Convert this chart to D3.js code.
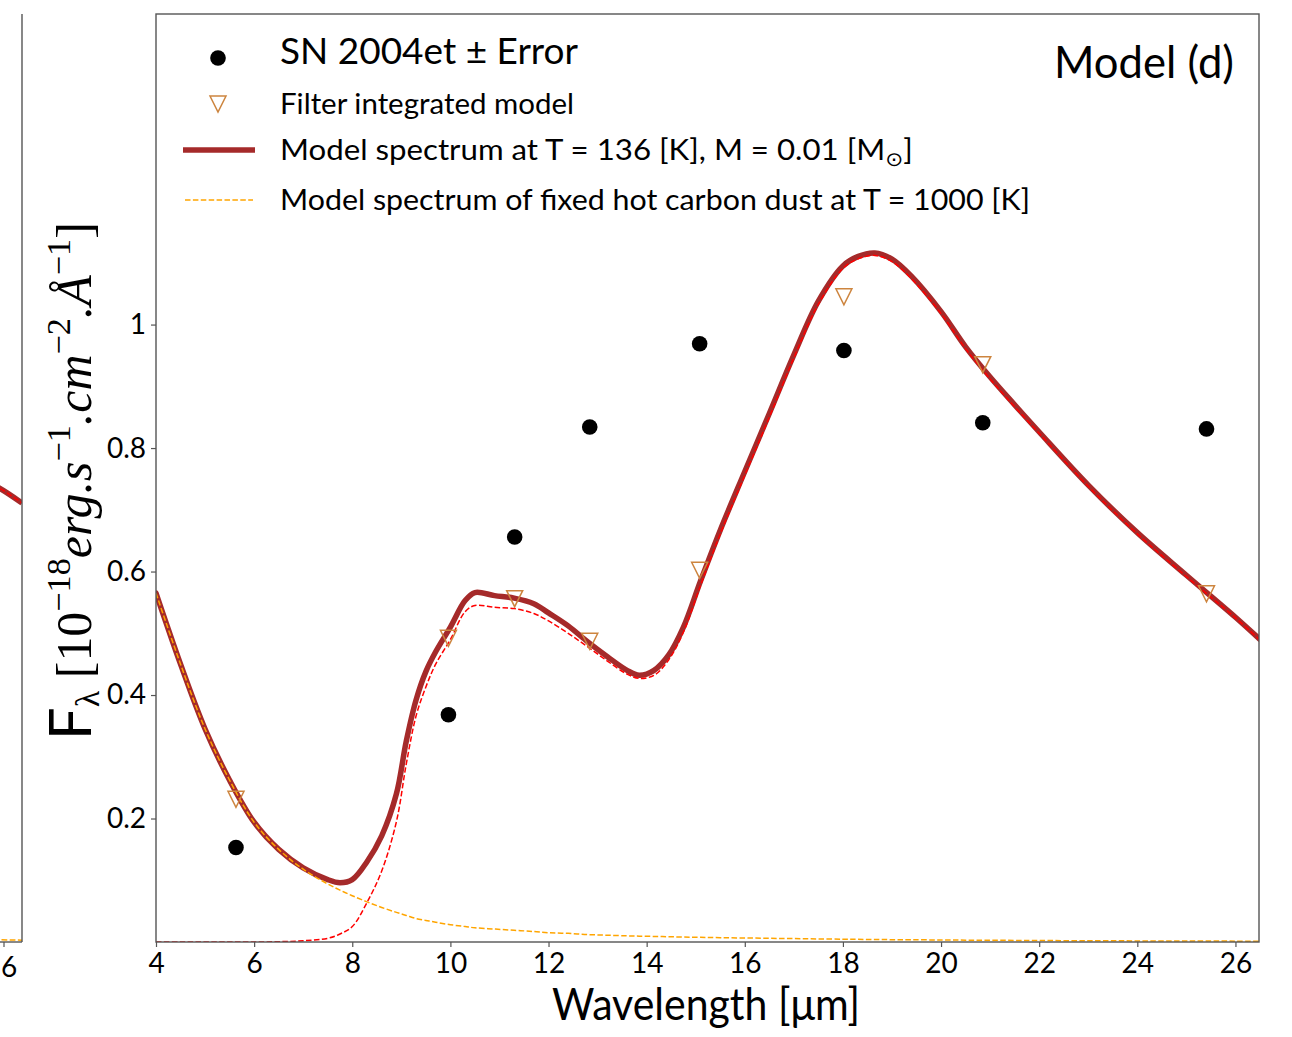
<!DOCTYPE html>
<html><head><meta charset="utf-8">
<script src="https://cdn.jsdelivr.net/npm/d3@7"></script>
<style>body{margin:0;background:#fff} svg{display:block}</style>
</head><body><svg id="c" width="1292" height="1037"></svg>
<script>
// ---------- data ----------
const wavelength = [4.0, 4.5, 5.0, 5.5, 6.0, 6.5, 7.0, 7.5, 7.75, 8.0, 8.3, 8.6, 8.9, 9.1, 9.3, 9.5, 9.7, 10.0, 10.3, 10.5, 10.9, 11.3, 11.7, 12.0, 12.4, 12.8, 13.2, 13.6, 13.85, 14.15, 14.45, 14.75, 15.1, 15.5, 16.0, 16.5, 17.0, 17.5, 18.0, 18.3, 18.65, 19.0, 19.4, 20.0, 20.5, 21.0, 21.5, 22.0, 23.0, 24.0, 25.0, 26.0, 26.5];
const totalFlux = [0.565, 0.450, 0.345, 0.262, 0.194, 0.150, 0.120, 0.101, 0.096, 0.101, 0.130, 0.172, 0.240, 0.325, 0.392, 0.438, 0.470, 0.510, 0.553, 0.566, 0.561, 0.557, 0.548, 0.533, 0.512, 0.486, 0.462, 0.440, 0.432, 0.440, 0.465, 0.510, 0.585, 0.667, 0.762, 0.856, 0.951, 1.038, 1.095, 1.110, 1.116, 1.106, 1.078, 1.021, 0.964, 0.915, 0.870, 0.826, 0.740, 0.663, 0.594, 0.526, 0.490];
const warmDust = [0.0, 0.0, 0.0, 0.0, 0.0, 0.0005, 0.002, 0.006, 0.013, 0.025, 0.064, 0.115, 0.195, 0.288, 0.366, 0.413, 0.450, 0.490, 0.535, 0.545, 0.542, 0.540, 0.532, 0.520, 0.500, 0.478, 0.455, 0.434, 0.427, 0.432, 0.457, 0.502, 0.578, 0.661, 0.756, 0.850, 0.946, 1.033, 1.091, 1.106, 1.112, 1.102, 1.074, 1.018, 0.961, 0.912, 0.867, 0.824, 0.738, 0.661, 0.592, 0.525, 0.489];
const hotCarbon = [0.565, 0.450, 0.345, 0.262, 0.194, 0.150, 0.118, 0.094, 0.084, 0.075, 0.065, 0.056, 0.048, 0.043, 0.038, 0.035, 0.032, 0.028, 0.025, 0.023, 0.021, 0.019, 0.017, 0.015, 0.014, 0.012, 0.011, 0.010, 0.0095, 0.009, 0.0085, 0.008, 0.0075, 0.007, 0.0065, 0.006, 0.0055, 0.005, 0.0045, 0.0043, 0.004, 0.0038, 0.0036, 0.0033, 0.003, 0.0028, 0.0026, 0.0024, 0.002, 0.0018, 0.0016, 0.0014, 0.0013];

const obsWl = [5.63, 9.96, 11.31, 12.84, 15.08, 18.02, 20.85, 25.41];
const obsFlux = [0.153, 0.368, 0.656, 0.834, 0.969, 0.958, 0.841, 0.831];
const filterFlux = [0.231, 0.492, 0.556, 0.487, 0.602, 1.045, 0.935, 0.564];

const xTicks = [4, 6, 8, 10, 12, 14, 16, 18, 20, 22, 24, 26];
const yTicks = [0.2, 0.4, 0.6, 0.8, 1];
const yTickLabels = ["0.2", "0.4", "0.6", "0.8", "1"];

const legendLabels = [
  "SN 2004et \u00B1 Error",
  "Filter integrated model",
  "Model spectrum at T = 136 [K], M = 0.01 [M",
  "Model spectrum of fixed hot carbon dust at T = 1000 [K]"
];
const panelTitle = "Model (d)";
const xLabel = "Wavelength [\u03BCm]";

// neighbouring (cut-off) panel on the left
const leftWl = [5.6, 5.9, 6.4];
const leftTotal = [0.745, 0.735, 0.711];
const leftHot = [0.004, 0.0035, 0.003];
const leftTicks = [6];

// ---------- layout ----------
const svg = d3.select("#c");
const L = 156, R = 1259, T = 14, B = 942;
const x = d3.scaleLinear().domain([4, 26.48]).range([L, R]);
const y = d3.scaleLinear().domain([0, 1.503]).range([B, T]);
const xl = d3.scaleLinear().domain([1.0, 6.4]).range([22 - 5.4 * 45, 22]);

const sans = "Lato, 'Open Sans', 'DejaVu Sans', sans-serif";
const serif = "'Liberation Serif', 'DejaVu Serif', serif";
const spine = "#555";

const brown = "#a52a2a", red = "#ff0000", orange = "#ffa500", peru = "#cd853f";
const smooth = d3.curveCatmullRom.alpha(0.5);

// ---------- left partial panel ----------
const lp = svg.append("g");
lp.append("defs").append("clipPath").attr("id", "clipL")
  .append("rect").attr("x", 0).attr("y", T).attr("width", 22).attr("height", B - T);
const lineL = d3.line().x((d, i) => xl(leftWl[i])).y(d => y(d)).curve(smooth);
lp.append("path").attr("clip-path", "url(#clipL)").attr("d", lineL(leftTotal))
  .attr("fill", "none").attr("stroke", brown).attr("stroke-width", 5.5);
lp.append("path").attr("clip-path", "url(#clipL)").attr("d", lineL(leftTotal))
  .attr("fill", "none").attr("stroke", red).attr("stroke-width", 1.5).attr("stroke-dasharray", "5.5,2.4");
lp.append("path").attr("clip-path", "url(#clipL)").attr("d", lineL(leftHot))
  .attr("fill", "none").attr("stroke", orange).attr("stroke-width", 1.5).attr("stroke-dasharray", "5.5,2.4");
lp.append("line").attr("x1", 22).attr("x2", 22).attr("y1", T).attr("y2", B).attr("stroke", spine).attr("stroke-width", 1.4);
lp.append("line").attr("x1", 0).attr("x2", 22).attr("y1", B).attr("y2", B).attr("stroke", spine).attr("stroke-width", 1.4);
lp.selectAll("line.lt").data(leftTicks).join("line").attr("class", "lt")
  .attr("x1", d => xl(d)).attr("x2", d => xl(d)).attr("y1", B).attr("y2", B + 5)
  .attr("stroke", spine).attr("stroke-width", 1.2);
lp.selectAll("text.lt").data(leftTicks).join("text").attr("class", "lt")
  .attr("x", 1).attr("y", 977).attr("text-anchor", "start")
  .attr("font-family", sans).attr("font-size", 28).text(d => d);

// ---------- main panel ----------
const g = svg.append("g");
g.append("defs").append("clipPath").attr("id", "clipM")
  .append("rect").attr("x", L).attr("y", T).attr("width", R - L).attr("height", B - T);

const line = d3.line().x((d, i) => x(wavelength[i])).y(d => y(d)).curve(smooth);
const curves = g.append("g").attr("clip-path", "url(#clipM)");
curves.append("path").attr("d", line(totalFlux)).attr("fill", "none")
  .attr("stroke", brown).attr("stroke-width", 5.5).attr("stroke-linejoin", "round").attr("stroke-linecap", "round");
curves.append("path").attr("d", line(warmDust)).attr("fill", "none")
  .attr("stroke", red).attr("stroke-width", 1.5).attr("stroke-dasharray", "5.5,2.4");
curves.append("path").attr("d", line(hotCarbon)).attr("fill", "none")
  .attr("stroke", orange).attr("stroke-width", 1.5).attr("stroke-dasharray", "5.5,2.4");

// filter integrated model: downward triangles centred on bbox
const tri = (cx, cy, s) => `M${cx - s / 2},${cy - s / 2}L${cx + s / 2},${cy - s / 2}L${cx},${cy + s / 2}Z`;
g.selectAll("path.tri").data(filterFlux).join("path").attr("class", "tri")
  .attr("d", (d, i) => tri(x(obsWl[i]), y(d), 16))
  .attr("fill", "none").attr("stroke", peru).attr("stroke-width", 1.5);

// observed points
g.selectAll("circle.obs").data(obsFlux).join("circle").attr("class", "obs")
  .attr("cx", (d, i) => x(obsWl[i])).attr("cy", d => y(d)).attr("r", 7.8).attr("fill", "#000");

// frame
g.append("rect").attr("x", L).attr("y", T).attr("width", R - L).attr("height", B - T)
  .attr("fill", "none").attr("stroke", spine).attr("stroke-width", 1.4);

// axes
const xAxis = g.append("g").attr("transform", `translate(0,${B})`)
  .call(d3.axisBottom(x).tickValues(xTicks).tickSize(5).tickPadding(6).tickFormat(d => d));
const yAxis = g.append("g").attr("transform", `translate(${L},0)`)
  .call(d3.axisLeft(y).tickValues(yTicks).tickSize(5).tickPadding(5).tickFormat((d, i) => yTickLabels[i]));
[xAxis, yAxis].forEach(a => {
  a.select(".domain").remove();
  a.selectAll(".tick line").attr("stroke", spine).attr("stroke-width", 1.2);
  a.selectAll(".tick text").attr("font-family", sans).attr("font-size", 28).attr("fill", "#000");
});
xAxis.selectAll(".tick text").attr("dy", "0.71em");

// title
g.append("text").attr("x", 1234).attr("y", 78).attr("text-anchor", "end")
  .attr("font-family", sans).attr("font-size", 44).attr("textLength", 180).attr("lengthAdjust", "spacingAndGlyphs")
  .text(panelTitle);

// x label
g.append("text").attr("x", 552).attr("y", 1020)
  .attr("font-family", sans).attr("font-size", 44).attr("textLength", 308).attr("lengthAdjust", "spacingAndGlyphs")
  .text(xLabel);

// y label (rotated)
const yl = svg.append("text").attr("font-family", serif).attr("font-size", 38).attr("fill", "#000");
yl.append("tspan").attr("font-family", sans).attr("font-size", 44).text("F");
yl.append("tspan").attr("font-size", 26).attr("dy", 6).text("\u03BB");
yl.append("tspan").attr("dy", -6).text(" [10");
yl.append("tspan").attr("font-size", 26).attr("dy", -16).text("\u221218");
yl.append("tspan").attr("font-style", "italic").attr("dy", 16).text("erg.s");
yl.append("tspan").attr("font-size", 26).attr("dy", -16).text("\u22121");
yl.append("tspan").attr("font-style", "italic").attr("dy", 16).text(".cm");
yl.append("tspan").attr("font-size", 26).attr("dy", -16).text("\u22122");
yl.append("tspan").attr("font-style", "italic").attr("dy", 16).text(".\u00C5");
yl.append("tspan").attr("font-size", 26).attr("dy", -16).text("\u22121");
yl.append("tspan").attr("dy", 16).text("]");
const ylLen = yl.node().getComputedTextLength();
const sc = 518 / ylLen;
yl.attr("transform", `translate(91,740) rotate(-90) scale(${sc})`);

// legend
const lg = g.append("g");
const rowsY = [58, 104, 150, 200];
lg.append("circle").attr("cx", 218).attr("cy", rowsY[0]).attr("r", 7.8).attr("fill", "#000");
lg.append("path").attr("d", tri(218, rowsY[1], 16)).attr("fill", "none").attr("stroke", peru).attr("stroke-width", 1.5);
lg.append("line").attr("x1", 183).attr("x2", 255).attr("y1", rowsY[2]).attr("y2", rowsY[2])
  .attr("stroke", brown).attr("stroke-width", 5.5);
lg.append("line").attr("x1", 185).attr("x2", 253).attr("y1", rowsY[3]).attr("y2", rowsY[3])
  .attr("stroke", orange).attr("stroke-width", 1.5).attr("stroke-dasharray", "5.5,2.4");

const legSizes = [37, 29, 29, 29];
const legLens = [298, 294, 0, 750];
legendLabels.forEach((t, i) => {
  const tx = lg.append("text").attr("x", 280).attr("y", rowsY[i] + (i === 0 ? 6 : 10))
    .attr("font-family", sans).attr("font-size", legSizes[i]).attr("fill", "#000");
  if (i === 2) {
    tx.append("tspan").text(t);
    tx.append("tspan").attr("font-size", 20).attr("dy", 6).text("\u2299");
    tx.append("tspan").attr("dy", -6).text("]");
    const w = tx.node().getComputedTextLength();
    tx.attr("transform", `translate(280,0) scale(${633 / w},1) translate(-280,0)`);
  } else {
    tx.text(t).attr("textLength", legLens[i]).attr("lengthAdjust", "spacingAndGlyphs");
  }
});
</script>
</body></html>
